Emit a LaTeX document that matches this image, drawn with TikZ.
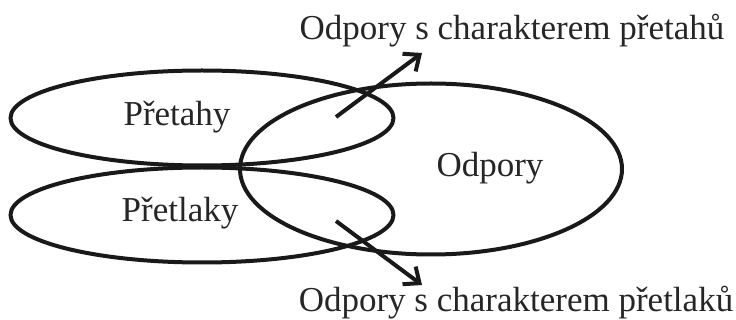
\documentclass[tikz,border=0pt]{standalone}
\usepackage{fontspec}
\setmainfont{Liberation Serif}
\usetikzlibrary{shapes.geometric,arrows.meta}
\begin{document}
\begin{tikzpicture}[x=1pt,y=-1pt,
  set/.style={draw=black!90, line width=4pt, ellipse, inner sep=0pt},
  lbl/.style={font=\fontsize{35}{40}\selectfont, text=black!85, inner sep=0pt},
  conn/.style={line width=4pt, draw=black!90, -{Straight Barb[length=13pt,width=22pt,line width=4pt]}}]
\useasboundingbox (0,0) rectangle (736,320);
\node[set, minimum width=383pt, minimum height=95pt] (tah) at (202,118) {};
\node[set, minimum width=383pt, minimum height=95pt] (tlak) at (202,215) {};
\node[set, minimum width=382pt, minimum height=171pt] (odp) at (431,169) {};
\node[lbl] (ttah) at (177,117) {Přetahy};
\node[lbl] (ttlak) at (180,213) {Přetlaky};
\node[lbl] (todp) at (490,168) {Odpory};
\node[lbl, anchor=base] (top) at (512,40) {Odpory s charakterem přetahů};
\node[lbl, anchor=base] (bot) at (516,312) {Odpory s charakterem přetlaků};
\coordinate (a1) at (336,117);
\coordinate (a2) at (422,53);
\coordinate (b1) at (336,221);
\coordinate (b2) at (422,285);
\draw[conn] (a1) -- (a2);
\draw[conn] (b1) -- (b2);
\end{tikzpicture}
\end{document}
